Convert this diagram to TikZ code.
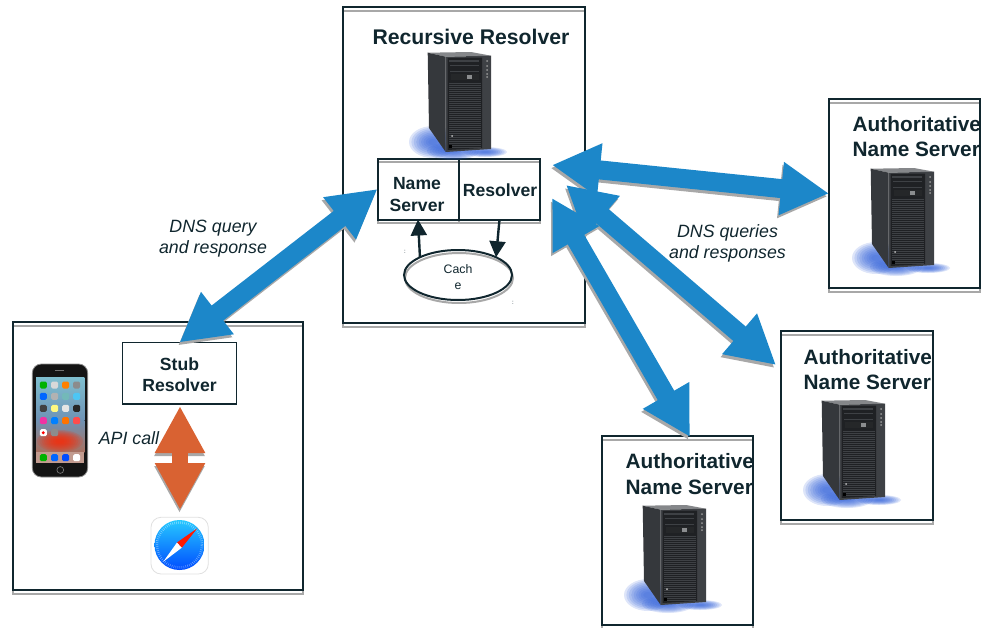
\documentclass[tikz,border=0pt]{standalone}
\usepackage{fontspec}
\setmainfont{Liberation Sans}
\usetikzlibrary{arrows.meta,shapes.geometric,shadows}
\definecolor{ink}{HTML}{10262E}
\definecolor{shadowgray}{HTML}{A8A8A8}
\definecolor{dnsblue}{HTML}{1C87C9}
\definecolor{apiorange}{HTML}{D96232}
\definecolor{towerdark}{HTML}{1F2124}
\definecolor{towerside}{HTML}{35383C}
\definecolor{towerpanel}{HTML}{3E4145}
\definecolor{towertop}{HTML}{85878A}
\definecolor{glowblue}{HTML}{2F5FD8}
\definecolor{screentop}{HTML}{7FBFD0}
\definecolor{screenmid}{HTML}{6E93B5}
\definecolor{screenlow}{HTML}{A8705F}
\tikzset{
  boxshadow/.style={copy shadow={shadow xshift=0pt,shadow yshift=-4pt,draw=shadowgray,fill=none,line width=2pt}},
  outerbox/.style={draw=ink,line width=2pt,rectangle,inner sep=0pt,outer sep=0pt,boxshadow},
  innerbox/.style={draw=ink,line width=2pt,rectangle,inner sep=0pt,outer sep=0pt,
    copy shadow={shadow xshift=0pt,shadow yshift=-3pt,draw=shadowgray,fill=none,line width=2pt}},
  stubbox/.style={draw=ink,line width=1.2pt,rectangle,inner sep=0pt,outer sep=0pt},
  cacheshape/.style={draw=ink,line width=2pt,ellipse,inner sep=0pt,outer sep=0pt,minimum width=108pt,minimum height=50pt,
    copy shadow={shadow xshift=1pt,shadow yshift=-3pt,draw=shadowgray,fill=none,line width=2pt}},
  titletext/.style={text=ink,inner sep=0pt,font=\fontsize{21.2}{24}\selectfont\bfseries},
  authtext/.style={text=ink,inner sep=0pt,font=\fontsize{20.8}{24}\selectfont\bfseries,anchor=west},
  boxtext/.style={text=ink,inner sep=0pt,font=\fontsize{17.6}{21}\selectfont\bfseries},
  notetext/.style={text=ink,inner sep=0pt,font=\fontsize{17.8}{21.2}\selectfont\itshape},
  cachetext/.style={text=ink,inner sep=0pt,font=\fontsize{12.3}{16}\selectfont},
  tinymark/.style={text=ink,inner sep=0pt,font=\fontsize{6}{7}\selectfont},
  dnsarrow/.style={line width=19pt,{Triangle[length=48pt,width=50pt]}-{Triangle[length=48pt,width=50pt]}},
  dnsfront/.style={dnsarrow,draw=dnsblue,fill=dnsblue},
  dnsback/.style={dnsarrow,draw=shadowgray,fill=shadowgray,transform canvas={xshift=-1.5pt,yshift=-3pt}},
  apiarrow/.style={line width=16pt,{Triangle[length=47pt,width=47pt]}-{Triangle[length=47pt,width=47pt]}},
  apifront/.style={apiarrow,draw=apiorange,fill=apiorange},
  apiback/.style={apiarrow,draw=shadowgray,fill=shadowgray,transform canvas={xshift=-0.5pt,yshift=-3pt}},
  cachearrow/.style={draw=ink,line width=2.4pt,-{Triangle[length=16pt,width=16pt]}},
}
\newcommand{\softblob}[5]{%
  \foreach \s in {1,.9,.8,.7,.6,.5,.4,.3,.2} {
    \fill[#5,opacity=.16] (#1,#2) ellipse [x radius=#3*\s, y radius=#4*\s];
  }%
}
\newcommand{\towerpic}[2]{%
  \begin{scope}[shift={(#1,#2)}]
    \softblob{6}{90}{24}{16}{glowblue}
    \softblob{26}{99}{26}{9}{glowblue}
    \softblob{58}{100}{22}{5}{glowblue}
    \fill[towertop] (0.7,0.7) -- (18.7,4.7) -- (64,3.7) -- (44,0) -- cycle;
    \fill[towerside] (0.7,0.7) -- (18.7,4.7) -- (18.7,100) -- (2,76) -- cycle;
    \fill[towerpanel] (18.7,4.7) -- (64,3.7) -- (64,97) -- (18.7,100) -- cycle;
    \fill[towerdark] (20.5,6) -- (55,5.5) -- (55,96) -- (20.5,98) -- cycle;
    \foreach \r in {31,33,...,95} {\draw[towerpanel,line width=.4pt] (22,\r) -- (54,\r);}
    \fill[towerpanel] (22,8) rectangle (52,10);
    \fill[towerpanel] (23,13) rectangle (52,14);
    \fill[towerpanel] (23,19) rectangle (52,20);
    \fill[towerpanel!60!black] (24,22) rectangle (52,28);
    \fill[towerpanel!60!white] (40,22.5) rectangle (45,27);
    \foreach \r in {9,14,18,22,25} {\fill[white!60!black] (60,\r) circle (1pt);}
    \fill[white!75!black] (25,84) circle (1pt);
    \fill[black] (22,93) rectangle (25,96);
  \end{scope}
}
\begin{document}
\begin{tikzpicture}[x=1pt,y=-1pt]
\useasboundingbox (0,0) rectangle (986,627);
% boxes
\node[outerbox,minimum width=242pt,minimum height=316pt] (recursive) at (464,165) {};
\node[outerbox,minimum width=290pt,minimum height=268pt] (device) at (158,456) {};
\node[outerbox,minimum width=151pt,minimum height=189pt] (auth1) at (904.5,193.5) {};
\node[outerbox,minimum width=152pt,minimum height=189pt] (auth2) at (857,425.5) {};
\node[outerbox,minimum width=151pt,minimum height=189pt] (auth3) at (677.5,530.5) {};
\node[innerbox,minimum width=81pt,minimum height=61pt] (nameserver) at (418,189) {};
\node[innerbox,minimum width=81pt,minimum height=61pt] (resolver) at (499.5,189) {};
\node[stubbox,minimum width=114.5pt,minimum height=61.5pt] (stub) at (179.5,373.2) {};
\node[cacheshape] (cache) at (458,275) {};
% titles
\node[titletext] (rrtitle) at (471,37) {Recursive Resolver};
\node[authtext] (a1a) at (852.5,124) {Authoritative};
\node[authtext] (a1b) at (852.5,149) {Name Server};
\node[authtext] (a2a) at (803.5,357) {Authoritative};
\node[authtext] (a2b) at (803.5,382) {Name Server};
\node[authtext] (a3a) at (625.5,461) {Authoritative};
\node[authtext] (a3b) at (625.5,487) {Name Server};
\node[boxtext] (nsa) at (417,183.5) {Name};
\node[boxtext] (nsb) at (417,205) {Server};
\node[boxtext] (rs) at (500,190) {Resolver};
\node[boxtext] (sta) at (179.5,364) {Stub};
\node[boxtext] (stb) at (179.5,385) {Resolver};
\node[cachetext,align=center] (cachelabel) at (458,277) {Cach\\e};
\node[tinymark] (ma) at (405,252) {:};
\node[tinymark] (mb) at (513,303) {:};
% towers
\towerpic{427}{52}
\towerpic{870}{168}
\towerpic{821}{400}
\towerpic{642}{505}
% phone
\fill[rounded corners=9pt,black!92] (32.3,364) rectangle (87.7,477);
\draw[rounded corners=9pt,black!45,line width=.8pt] (32.3,364) rectangle (87.7,477);
\shade[top color=screentop,bottom color=screenmid] (36,377) rectangle (84.3,420);
\shade[top color=screenmid,bottom color=screenlow] (36,420) rectangle (84.3,452);
\softblob{60}{441}{23}{11}{red!70!orange}
\fill[screenlow!70!white] (36,452) rectangle (84.3,463);
\foreach \cx/\cy/\cc in {43.3/385/green!70!black,54.7/385/white!85!black,65.7/385/orange,76.7/385/black!45,
  43.3/396.3/blue!60!cyan,54.7/396.3/white!70!black,65.7/396.3/teal!55!white,76.7/396.3/cyan!70!white,
  43.3/408.3/black!75,54.7/408.3/yellow!50!white,65.7/408.3/white!90!black,76.7/408.3/black!85,
  43.3/420.7/magenta!80!white,54.7/420.7/blue!50!cyan,65.7/420.7/orange!90!red,76.7/420.7/red!60!pink,
  43.3/432.7/white,54.7/432.7/black!45,
  43.3/457.7/green!70!black,54.7/457.7/blue!60!cyan,65.7/457.7/blue!70!cyan,76.7/457.7/white} {
  \fill[\cc,rounded corners=1.5pt] (\cx-3.5,\cy-3.5) rectangle (\cx+3.5,\cy+3.5);
}
\fill[red] (43.3,432.7) circle (1.6pt);
\draw[black!55,line width=.7pt] (60.3,470) circle (3.4pt);
\draw[black!55,line width=.7pt] (55,370) -- (64,370);
% compass icon
\draw[black!12,fill=white,line width=.8pt,rounded corners=10pt] (151,517.3) rectangle (208.3,574);
\shade[top color=cyan!75!blue!85!white,bottom color=blue!70!cyan] (179.5,545) circle (25pt);
\draw[white,opacity=.45,line width=2.5pt,dash pattern=on .5pt off 1.5pt] (179.5,545) circle (22.5pt);
\fill[white] (163.3,561.7) -- (181.9,547.6) -- (177.1,542.4) -- cycle;
\fill[red!80!orange] (197.3,528.3) -- (181.9,547.6) -- (177.1,542.4) -- cycle;
% connectors
\coordinate (tipone) at (552,165);
\coordinate (tiptwo) at (566,185);
\coordinate (tipthree) at (552,198);
\coordinate (tipauth2) at (776,365);
\coordinate (tipauth3) at (690,437);
\coordinate (apitop) at (180,406);
\coordinate (apibottom) at (180,510);
\draw[cachearrow] (cache.155) -- (nameserver.south);
\draw[cachearrow] (resolver.south) -- (cache.25);
\draw[dnsback] (stub.north) -- (nameserver.west);
\draw[dnsfront] (stub.north) -- (nameserver.west);
\draw[dnsback] (tipone) -- (auth1.west);
\draw[dnsfront] (tipone) -- (auth1.west);
\draw[dnsback] (tiptwo) -- (tipauth2);
\draw[dnsfront] (tiptwo) -- (tipauth2);
\draw[dnsback] (tipthree) -- (tipauth3);
\draw[dnsfront] (tipthree) -- (tipauth3);
\draw[apiback] (apitop) -- (apibottom);
\draw[apifront] (apitop) -- (apibottom);
% notes
\node[notetext,align=center] (noteone) at (213,239) {DNS query\\and response};
\node[notetext,align=center] (notetwo) at (727.5,243) {DNS queries\\and responses};
\node[notetext] (notethree) at (129,438) {API call};
\end{tikzpicture}
\end{document}
